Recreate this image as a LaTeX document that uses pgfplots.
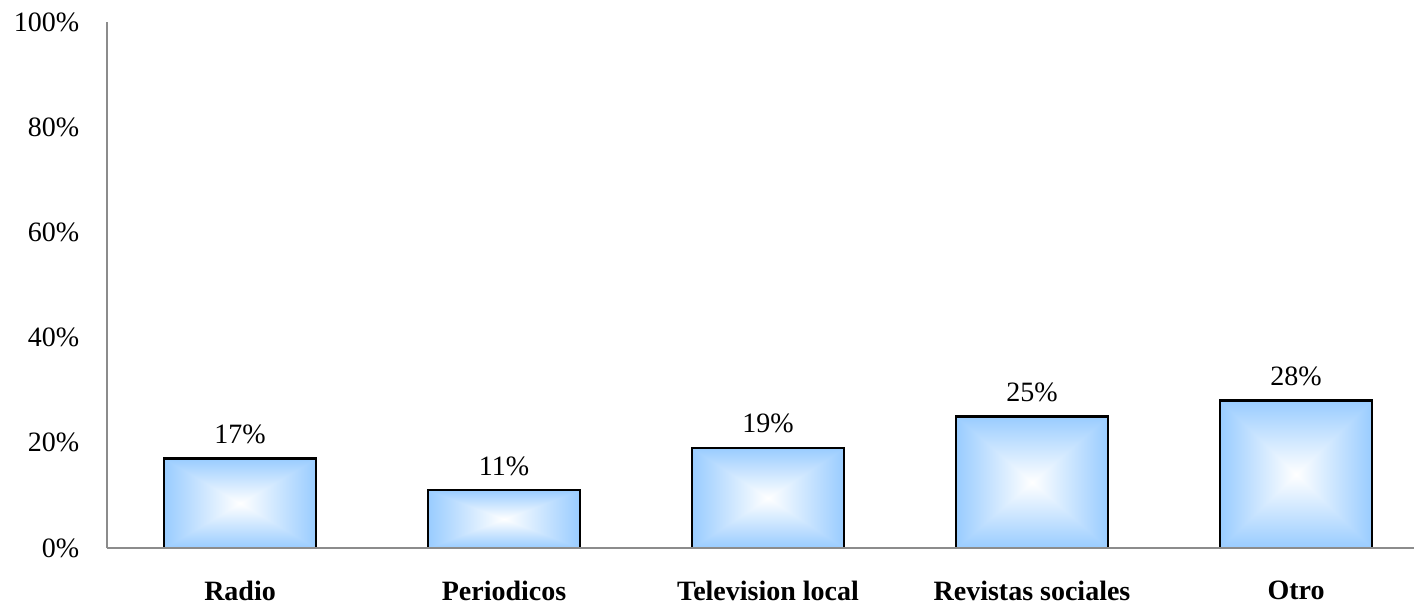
\documentclass[border=0pt]{standalone}
\usepackage{fontspec}
\setmainfont{Liberation Serif}
\usepackage{pgfplots}
\pgfplotsset{compat=1.18}
\pgfdeclarefunctionalshading{rectgrad}{\pgfpoint{-50bp}{-50bp}}{\pgfpoint{50bp}{50bp}}{}{
 abs exch abs 2 copy lt {exch} if pop 25 div
 dup 1 gt {pop 1} if
 dup 0.4 mul 1 exch sub
 exch
 dup 0.2 mul 1 exch sub
 exch
 pop 1
}
\pgfplotstableread{
x y
0 17
1 11
2 19
3 25
4 28
}\datatable
\pgfplotsset{
  mybar/.style={ybar, bar width=76bp, draw=none, shading=rectgrad,
    nodes near coords={\pgfmathprintnumber[assume math mode=true]{\pgfplotspointmeta}\%},
    nodes near coords style={font=\fontsize{14bp}{17bp}\selectfont, yshift=2.5bp, text=black},
    point meta=y}
}
\begin{document}
\fontsize{14bp}{17bp}\selectfont
\begin{tikzpicture}
\begin{axis}[
  name=ax,
  scale only axis,
  width=653.5bp, height=263bp,
  xmin=-0.504, xmax=4.447,
  ymin=0, ymax=100,
  axis x line*=bottom, axis y line*=left,
  axis line style={draw=black!45, line width=0.9bp},
  axis on top,
  major tick length=0pt,
  xtick={0,1,2,3,4},
  xticklabels={Radio,Periodicos,Television local,Revistas sociales,Otro},
  xticklabel style={font=\fontsize{14bp}{17bp}\selectfont\bfseries, yshift=-11.5bp},
  ytick={0,20,40,60,80,100},
  yticklabels={0\%,20\%,40\%,60\%,80\%,100\%},
  yticklabel style={font=\fontsize{14bp}{17bp}\selectfont, xshift=-9bp},
  clip=false,
]
\addplot[mybar] coordinates {(0,17)};
\addplot[mybar] coordinates {(1,11)};
\addplot[mybar] coordinates {(2,19)};
\addplot[mybar] coordinates {(3,25)};
\addplot[mybar] coordinates {(4,28)};
\addplot[ybar, bar width=76bp, draw=black, fill=none, line width=1.3bp, forget plot] table[x=x,y=y] {\datatable};
\end{axis}
\pgfresetboundingbox
\path ([shift={(-53.5bp,-28bp)}]ax.south west) rectangle ([shift={(0bp,11bp)}]ax.north east);
\end{tikzpicture}
\end{document}
